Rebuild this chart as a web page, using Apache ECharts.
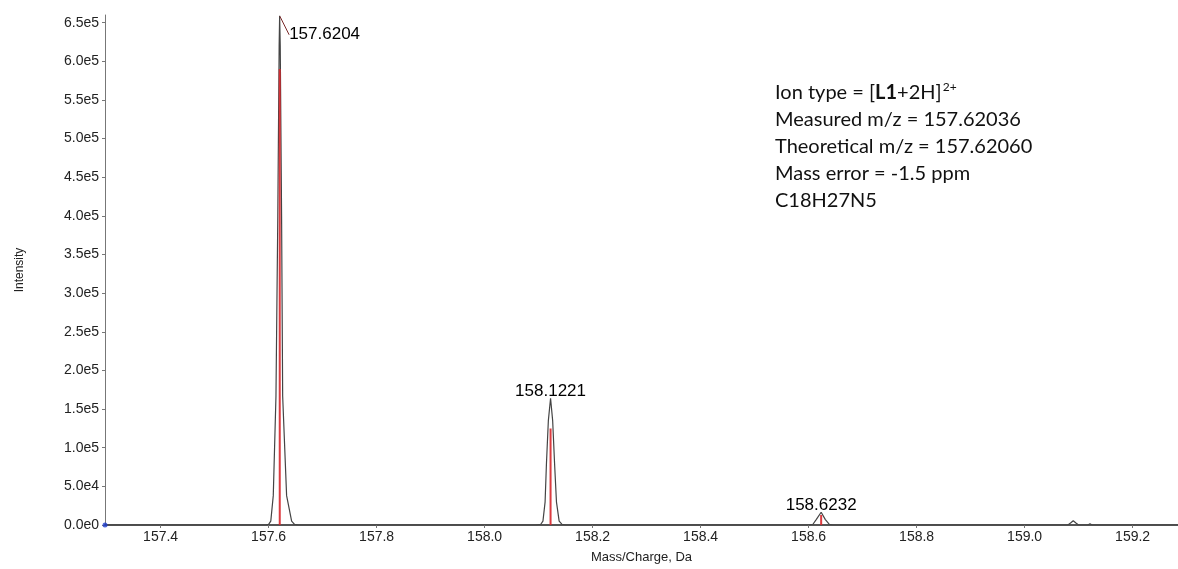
<!DOCTYPE html>
<html>
<head>
<meta charset="utf-8">
<script src="https://cdn.jsdelivr.net/npm/echarts@6/dist/echarts.min.js"></script>
<style>html,body{margin:0;padding:0;background:#fff;}#c{width:1178px;height:569px;}</style>
</head>
<body>
<div id="c"></div>
<script>
// ---- data ----
const xTicks = [157.4, 157.6, 157.8, 158.0, 158.2, 158.4, 158.6, 158.8, 159.0, 159.2];
const yTicks = [0, 50000, 100000, 150000, 200000, 250000, 300000, 350000, 400000, 450000, 500000, 550000, 600000, 650000];
const xRange = [157.297, 159.284];
const yRange = [0, 660000];

// measured profile spectrum (m/z, intensity)
const measuredMz = [157.297, 157.595, 157.600, 157.604, 157.6086, 157.6136, 157.617, 157.6195, 157.6204, 157.6215, 157.624, 157.626, 157.6333, 157.6426, 157.648, 157.655,
  158.095, 158.104, 158.108, 158.112, 158.1145, 158.118, 158.1221, 158.126, 158.1295, 158.133, 158.138, 158.143, 158.150,
  158.600, 158.608, 158.614, 158.6232, 158.631, 158.638, 158.645,
  159.080, 159.085, 159.090, 159.095, 159.100, 159.117, 159.121, 159.125, 159.284];
const measuredIntensity = [0, 0, 800, 5000, 38000, 167000, 400000, 620000, 659000, 620000, 400000, 167000, 38000, 5000, 800, 0,
  0, 1000, 5000, 30000, 80000, 135000, 164000, 135000, 80000, 30000, 5000, 1000, 0,
  0, 1000, 7000, 16500, 7000, 1000, 0,
  0, 2500, 5500, 2500, 0, 0, 1500, 0, 0];

// theoretical isotope sticks
const theoMz = [157.6206, 158.1221, 158.6232];
const theoIntensity = [590000, 125000, 13000];

// labelled peaks
const peakMz = [157.6204, 158.1221, 158.6232];
const peakIntensity = [659000, 164000, 16500];
const peakText = ['157.6204', '158.1221', '158.6232'];

const originMarker = [[157.297, 0]];

const infoLines = [
  ['Ion type = [', 'L1', '+2H]', '2+'],
  'Measured m/z = 157.62036',
  'Theoretical m/z = 157.62060',
  'Mass error = -1.5 ppm',
  'C18H27N5'
];

// ---- build ----
const measuredData = measuredMz.map((m, i) => [m, measuredIntensity[i]]);
const theoData = [];
theoMz.forEach((m, i) => { theoData.push([m, 0], [m, theoIntensity[i]], [m, '-']); });
const peakData = peakMz.map((m, i) => ({
  value: [m, peakIntensity[i]],
  name: peakText[i],
  label: i === 0 ? { position: 'right', distance: 4 } : { position: 'top', distance: -2 },
  labelLine: { show: i === 0 }
}));

function fmtY(v) {
  if (v === 0) return '0.0e0';
  const e = Math.floor(Math.log10(v) + 1e-9);
  const m = v / Math.pow(10, e);
  return m.toFixed(1) + 'e' + e;
}

const infoText = '{n|' + infoLines[0][0] + '}{b|' + infoLines[0][1] + '}{n|' + infoLines[0][2] + '}{sup|' + infoLines[0][3] + '}\n' +
  infoLines.slice(1).map(s => '{n|' + s + '}').join('\n');

const chart = echarts.init(document.getElementById('c'), null, { renderer: 'canvas' });
chart.setOption({
  animation: false,
  backgroundColor: '#fff',
  grid: { left: 105, right: 0, top: 15, bottom: 39 },
  xAxis: {
    type: 'value', min: xRange[0], max: xRange[1],
    name: 'Mass/Charge, Da', nameLocation: 'middle', nameGap: 26,
    nameTextStyle: { fontFamily: 'Liberation Sans', fontSize: 13, color: '#222' },
    axisLine: { onZero: false, lineStyle: { color: '#555', width: 2 } },
    axisTick: { show: true, customValues: xTicks, length: 3, lineStyle: { color: '#777' } },
    axisLabel: { customValues: xTicks, formatter: v => v.toFixed(1), fontFamily: 'Liberation Sans', fontSize: 14, color: '#222', margin: 5 },
    splitLine: { show: false }
  },
  yAxis: {
    type: 'value', min: yRange[0], max: yRange[1],
    name: 'Intensity', nameLocation: 'middle', nameGap: 79, nameRotate: 90,
    nameTextStyle: { fontFamily: 'Liberation Sans', fontSize: 12, color: '#222' },
    axisLine: { show: true, lineStyle: { color: '#777', width: 1 } },
    axisTick: { show: true, customValues: yTicks, length: 3, lineStyle: { color: '#777' } },
    axisLabel: { customValues: yTicks, formatter: fmtY, fontFamily: 'Liberation Sans', fontSize: 14, color: '#222', margin: 6 },
    splitLine: { show: false }
  },
  graphic: [{
    type: 'text', left: 775, top: 79, z: 100,
    style: {
      text: infoText,
      fill: '#111',
      rich: {
        n: { fontFamily: 'Lato', fontSize: 20, lineHeight: 27, fill: '#111' },
        b: { fontFamily: 'Lato', fontSize: 20, fontWeight: 'bold', lineHeight: 27, fill: '#111' },
        sup: { fontFamily: 'Lato', fontSize: 12, lineHeight: 14, verticalAlign: 'top', fill: '#111', padding: [2, 0, 0, 1] }
      }
    }
  }],
  series: [
    {
      type: 'line', name: 'measured', data: measuredData, showSymbol: false, symbol: 'none',
      lineStyle: { color: '#444', width: 1.2 }, z: 2, silent: true
    },
    {
      type: 'line', name: 'theoretical', data: theoData, showSymbol: false, symbol: 'none', connectNulls: false,
      lineStyle: { color: '#d8262b', width: 2, opacity: 0.9 }, z: 3, silent: true
    },
    {
      type: 'scatter', name: 'peaks', data: peakData, symbolSize: 1, itemStyle: { color: 'rgba(0,0,0,0)' }, z: 4,
      label: { show: true, formatter: p => p.name, fontFamily: 'Liberation Sans', fontSize: 17, color: '#000', opacity: 1 },
      labelLayout: p => p.dataIndex === 0 ? { dx: 5, dy: 19 } : {},
      labelLine: { show: true, length2: 0, lineStyle: { color: '#7a2a2a', width: 1 } }
    },
    {
      type: 'scatter', name: 'origin', data: originMarker, symbol: 'circle', symbolSize: 5,
      itemStyle: { color: '#1f3fd0' }, z: 5, clip: false
    }
  ]
});
</script>
</body>
</html>
